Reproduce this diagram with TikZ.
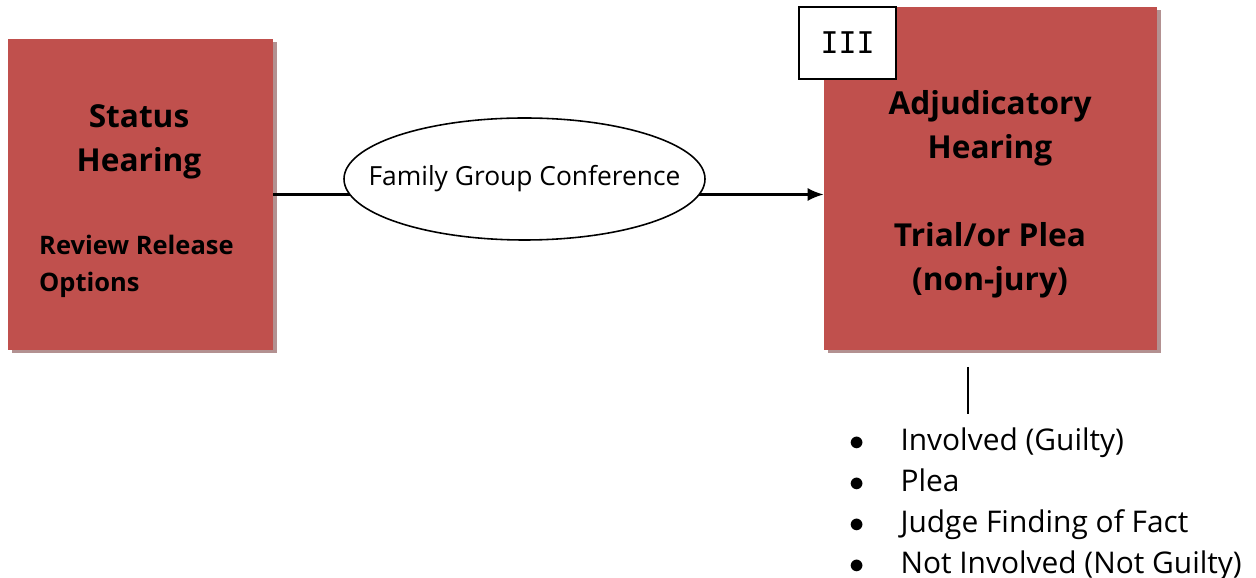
\documentclass[tikz,border=0pt]{standalone}
\usepackage{fontspec}
\setmainfont{Open Sans}
\newfontfamily\phasefont{DejaVu Sans Mono}
\usepackage{tikz}
\usetikzlibrary{arrows.meta, positioning, calc, shapes.geometric, shadows}
\definecolor{BoxRed}{HTML}{C0504D}
\definecolor{ShadowRose}{HTML}{B39191}

\tikzset{
  hearing/.style={rectangle, fill=BoxRed, draw=none,
                  drop shadow={shadow xshift=0.07cm, shadow yshift=-0.07cm,
                               fill=ShadowRose, opacity=1}},
  headtext/.style={align=center, font=\bfseries\fontsize{18}{25}\selectfont},
  subtext/.style={align=left, font=\bfseries\fontsize{14.5}{21}\selectfont},
  flow/.style={line width=1.2pt, -{Latex[length=3.2mm, width=2.6mm]}},
}

\begin{document}
\begin{tikzpicture}
    \useasboundingbox (0,0) rectangle (25.12,-11.56);

    % the two hearings
    \node[hearing, minimum width=5.30cm, minimum height=6.22cm] (status) at (2.81,-3.89) {};
    \node[hearing, minimum width=6.66cm, minimum height=6.86cm] (adjud) at (19.81,-3.57) {};

    \node[headtext] (statustxt) at (2.78,-2.84) {Status\\Hearing};
    \node[subtext, anchor=west] (releasetxt) at (0.66,-5.33) {Review Release\\Options};
    \node[headtext] (adjudtxt) at (19.80,-3.88) {Adjudicatory\\Hearing\\[25pt]Trial/or Plea\\(non-jury)};

    % phase number
    \node[rectangle, draw, fill=white, line width=0.9pt, minimum width=1.94cm,
          minimum height=1.44cm, font=\phasefont\fontsize{17}{20}\selectfont] (phase) at (16.95,-0.86) {III};

    % connector and conference
    \draw[flow] (status.east) -- (status.east -| adjud.west);
    \node[ellipse, draw, fill=white, line width=0.9pt, minimum width=7.22cm,
          minimum height=2.44cm, inner xsep=-0.68cm, inner ysep=0pt,
          font=\fontsize{15}{18}\selectfont] (conf) at (10.49,-3.58) {Family Group Conference};

    % outcomes
    \coordinate (tick) at (19.36,-7.34);
    \coordinate (tickend) at (19.36,-8.28);
    \node[anchor=north west, inner sep=0pt, font=\fontsize{17}{23.2}\selectfont] (outcomes) at (16.98,-8.44) {%
        \begin{tabular}{@{}l@{\hspace{0.72cm}}l@{}}
        $\bullet$ & Involved (Guilty)\\
        $\bullet$ & Plea\\
        $\bullet$ & Judge Finding of Fact\\
        $\bullet$ & Not Involved (Not Guilty)
        \end{tabular}};
    \draw[line width=0.8pt] (tick) -- (tickend);
\end{tikzpicture}
\end{document}
